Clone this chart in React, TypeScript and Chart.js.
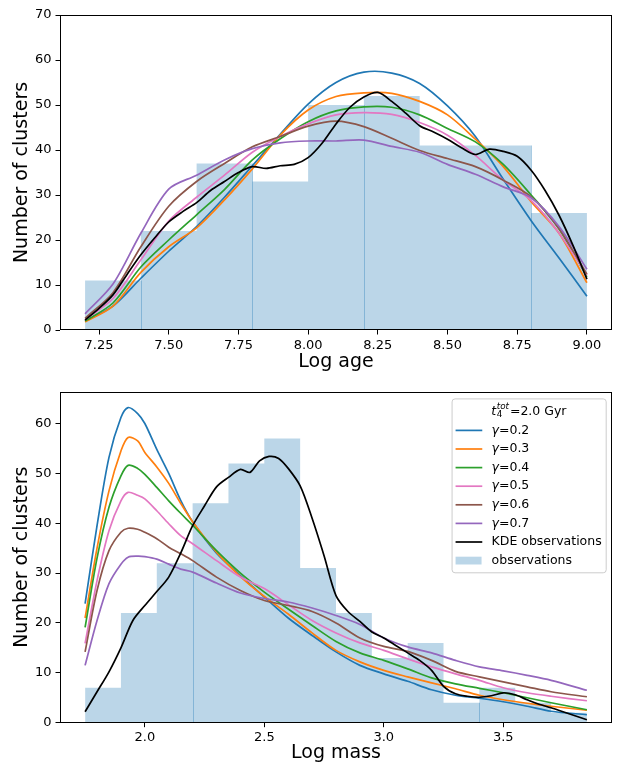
import React, { useEffect, useRef } from "react";
import { Chart, registerables } from "chart.js";

Chart.register(...registerables);

const FONT = '"DejaVu Sans", "Liberation Sans", sans-serif';

// ---------------- Top panel: Log age ----------------
const ageBinStart = 7.2;
const ageBinWidth = 0.2;
const ageCounts = [11, 22, 37, 33, 50, 52, 41, 41, 26];
const ageEdgeLines = [7.4, 7.8, 8.2, 8.8];
const ageTicks = [7.25, 7.5, 7.75, 8.0, 8.25, 8.5, 8.75, 9.0];
const ageCountTicks = [0, 10, 20, 30, 40, 50, 60, 70];

const ageX = [7.2, 7.3, 7.4, 7.5, 7.6, 7.7, 7.8, 7.9, 8.0, 8.1, 8.2, 8.3, 8.4, 8.5, 8.6, 8.7, 8.8, 8.9, 9.0];
const ageG02 = [2.0, 5.3, 11.5, 17.5, 23, 29.5, 36.5, 43.5, 50.2, 55, 57.3, 57.1, 54.8, 49.8, 43, 33.5, 24.3, 16, 7.5];
const ageG03 = [1.8, 5.3, 12.8, 18.5, 22.7, 28.9, 35.8, 43.3, 48.9, 51.9, 52.7, 52.6, 50.8, 47.8, 42.4, 36.3, 28.5, 21.5, 10.5];
const ageG04 = [2.0, 6.0, 14, 20, 25.6, 31.2, 37.8, 42.5, 46.3, 48.7, 49.6, 49.5, 47.8, 44.8, 41.8, 36.8, 30, 22.5, 11.8];
const ageG05 = [2.3, 7.0, 15.6, 24.2, 29.5, 34.4, 39.5, 43, 45.8, 47.8, 48.3, 47.9, 46.1, 43.3, 38.8, 33.3, 28.8, 21.5, 12.2];
const ageG06 = [2.6, 8.3, 18.5, 27.5, 33, 37, 40.7, 43, 45.3, 46.4, 45.2, 42.6, 39.9, 38.1, 36.3, 33.3, 29.6, 22.5, 12.4];
const ageG07 = [3.6, 10.2, 21.5, 31.3, 34.4, 37.8, 40.3, 41.6, 42, 42, 42.2, 40.8, 39.5, 36.8, 34.6, 31.8, 29.4, 23, 13.5];

const ageKdeX = [7.2, 7.25, 7.3, 7.35, 7.4, 7.45, 7.5, 7.55, 7.6, 7.65, 7.7, 7.75, 7.8, 7.85, 7.9, 7.95, 8.0, 8.05, 8.1, 8.15, 8.2, 8.25, 8.3, 8.35, 8.4, 8.45, 8.5, 8.55, 8.6, 8.65, 8.7, 8.75, 8.8, 8.85, 8.9, 8.95, 9.0];
const ageKde = [2.2, 4.8, 7.8, 12.3, 16.7, 20.5, 24.0, 26.3, 28.3, 31.0, 33.0, 35.0, 36.3, 35.9, 36.5, 36.8, 38.3, 41.5, 45.8, 49.5, 51.8, 52.8, 50.8, 48.2, 45.4, 44.0, 42.4, 40.5, 39.0, 40.2, 39.7, 38.6, 35.5, 31.0, 25.5, 18.8, 11.3];

// ---------------- Bottom panel: Log mass ----------------
const massBinStart = 1.75;
const massBinWidth = 0.15;
const massCounts = [7, 22, 32, 44, 52, 57, 31, 22, 13, 16, 4, 7, 4, 2];
const massEdgeLines = [2.2, 3.4];
const massTicks = [2.0, 2.5, 3.0, 3.5];
const massCountTicks = [0, 10, 20, 30, 40, 50, 60];

const massX = [1.75, 1.8, 1.85, 1.9, 1.93, 1.97, 2.0, 2.05, 2.1, 2.15, 2.2, 2.3, 2.4, 2.5, 2.6, 2.7, 2.8, 2.9, 3.0, 3.1, 3.2, 3.3, 3.4, 3.5, 3.6, 3.7, 3.85];
const massG02 = [23.9, 39.5, 53.2, 61.2, 63.2, 62.0, 60.0, 54.8, 50, 44.6, 40.3, 34, 29.5, 25.2, 21, 17.5, 14.2, 11.5, 9.8, 8.3, 6.6, 5.5, 4.9, 4.2, 3.3, 2.3, 1.6];
const massG03 = [21, 35, 46.5, 54.5, 57.2, 56.5, 54.2, 51.3, 48, 44, 40.3, 34.2, 29.3, 25.3, 21.8, 18, 14.5, 12.2, 10.5, 9.2, 8, 6.8, 5.5, 4.6, 3.9, 3.3, 2.5];
const massG04 = [19.1, 33, 43.2, 49.5, 51.6, 51, 49.8, 47.2, 44.5, 42, 39.6, 34.5, 30, 26.2, 22.8, 19.5, 16.3, 14, 12.5, 10.8, 9, 7.8, 6.9, 6, 5, 4, 2.6];
const massG05 = [15.9, 28.5, 38.5, 44.5, 46.2, 45.6, 44.9, 42.5, 39.9, 37.5, 35.9, 32.5, 29.2, 26.9, 23.7, 20.5, 18, 16, 14.5, 12.8, 11.2, 9.8, 8.5, 7, 6, 5.3, 4.4];
const massG06 = [14.2, 26.5, 34.5, 38.2, 39, 38.8, 38.2, 36.9, 35.2, 33.9, 32.5, 29.2, 26.5, 24.5, 23.5, 22.3, 20, 17, 15.3, 14.3, 12.5, 10.3, 9.2, 8.2, 7.2, 6.2, 5.2];
const massG07 = [11.5, 20.5, 27.9, 31.8, 33.2, 33.4, 33.3, 32.8, 31.8, 30.8, 30.2, 28, 26, 24.9, 24.2, 23, 21.5, 19.7, 17, 15.2, 14, 12.5, 11.2, 10.4, 9.5, 8.5, 6.5];

const massKdeX = [1.75, 1.8, 1.85, 1.9, 1.95, 2.0, 2.05, 2.1, 2.15, 2.2, 2.25, 2.3, 2.35, 2.4, 2.44, 2.48, 2.52, 2.56, 2.6, 2.65, 2.7, 2.75, 2.8, 2.85, 2.9, 2.95, 3.0, 3.05, 3.1, 3.15, 3.2, 3.25, 3.3, 3.35, 3.4, 3.45, 3.5, 3.55, 3.6, 3.65, 3.7, 3.75, 3.8, 3.85];
const massKde = [2.2, 6.2, 10.2, 15, 20.5, 23.5, 26.3, 29.2, 34, 39.5, 43.5, 47.3, 49.2, 50.8, 50.2, 52.5, 53.4, 53, 51, 47.5, 41, 33.5, 25.5, 22.3, 20.3, 18.2, 17, 15.5, 14, 12.5, 10.5, 7.3, 5.8, 5.3, 5.1, 5.4, 6.0, 5.6, 4.6, 3.7, 3.0, 2.2, 1.4, 0.6];

const gammaLabels = ["γ=0.2", "γ=0.3", "γ=0.4", "γ=0.5", "γ=0.6", "γ=0.7"];
const gammaColors = ["#1f77b4", "#ff7f0e", "#2ca02c", "#e377c2", "#8c564b", "#9467bd"];
const kdeLabel = "KDE observations";
const histLabel = "observations";
const histColor = "rgba(31,119,180,0.3)";

const pts = (xs: number[], ys: number[]) => xs.map((x, i) => ({ x, y: ys[i] }));
const histPts = (start: number, width: number, counts: number[]) => {
  const p = counts.map((c, i) => ({ x: start + i * width, y: c }));
  p.push({ x: start + counts.length * width, y: counts[counts.length - 1] });
  return p;
};

const framePlugin = {
  id: "frame",
  afterDatasetsDraw(chart: any) {
    const { ctx, chartArea: a } = chart;
    ctx.save();
    ctx.strokeStyle = "#000";
    ctx.lineWidth = 1;
    const l = Math.round(a.left) + 0.5, t = Math.round(a.top) + 0.5;
    const r = Math.round(a.right) - 0.5, b = Math.round(a.bottom) - 0.5;
    ctx.strokeRect(l, t, r - l, b - t);
    ctx.restore();
  },
};

const edgePlugin = (edges: number[], start: number, width: number, counts: number[]) => ({
  id: "edges",
  beforeDatasetsDraw(chart: any) {
    const { ctx } = chart;
    const xs = chart.scales.x, ys = chart.scales.y;
    ctx.save();
    ctx.strokeStyle = "rgba(31,119,180,0.35)";
    ctx.lineWidth = 1;
    edges.forEach((e) => {
      const i = Math.round((e - start) / width) - 1;
      const px = Math.round(xs.getPixelForValue(e)) + 0.5;
      ctx.beginPath();
      ctx.moveTo(px, ys.getPixelForValue(0));
      ctx.lineTo(px, ys.getPixelForValue(counts[i]));
      ctx.stroke();
    });
    ctx.restore();
  },
});

const legendPlugin = {
  id: "mplLegend",
  afterDraw(chart: any) {
    const { ctx, chartArea: a } = chart;
    const fs = 12.5;
    const small = fs * 0.7;
    const ds = chart.data.datasets;
    ctx.save();
    ctx.font = `${fs}px ${FONT}`;
    let maxW = 0;
    ds.forEach((d: any) => {
      maxW = Math.max(maxW, ctx.measureText(d.label).width);
    });
    const rowH = 18.6;
    const boxW = 40 + maxW + 4;
    const boxRight = a.right - 6.3;
    const boxLeft = boxRight - boxW;
    const boxTop = a.top + 6.6;
    const firstRow = boxTop + 32;
    const boxBottom = firstRow + (ds.length - 1) * rowH + 11.7;
    ctx.beginPath();
    ctx.roundRect(boxLeft + 0.5, boxTop + 0.5, boxW, boxBottom - boxTop, 3);
    ctx.fillStyle = "rgba(255,255,255,0.8)";
    ctx.fill();
    ctx.strokeStyle = "#cccccc";
    ctx.lineWidth = 1;
    ctx.stroke();

    // title: t_4^tot=2.0 Gyr
    ctx.fillStyle = "#000";
    ctx.textBaseline = "alphabetic";
    const italic = `italic ${fs}px ${FONT}`;
    const italicSmall = `italic ${small}px ${FONT}`;
    const normalSmall = `${small}px ${FONT}`;
    const normal = `${fs}px ${FONT}`;
    ctx.font = italic;
    const wT = ctx.measureText("t").width;
    ctx.font = italicSmall;
    const wSup = ctx.measureText("tot").width;
    ctx.font = normalSmall;
    const wSub = ctx.measureText("4").width;
    ctx.font = normal;
    const rest = "=2.0 Gyr";
    const wRest = ctx.measureText(rest).width;
    const wScript = Math.max(wSup, wSub) + 1;
    const totalW = wT + wScript + wRest;
    const cx = (boxLeft + boxRight) / 2;
    let tx = cx - totalW / 2;
    const base = boxTop + 11.7 + fs * 0.36;
    ctx.font = italic;
    ctx.fillText("t", tx, base);
    tx += wT + 0.5;
    ctx.font = italicSmall;
    ctx.fillText("tot", tx, base - fs * 0.42);
    ctx.font = normalSmall;
    ctx.fillText("4", tx, base + fs * 0.22);
    tx += wScript;
    ctx.font = normal;
    ctx.fillText(rest, tx, base);

    // entries
    ds.forEach((d: any, i: number) => {
      const y = firstRow + i * rowH;
      const hx = boxLeft + 4;
      if (d.isHist) {
        ctx.fillStyle = histColor;
        ctx.fillRect(hx, y - 3.9, 26, 7.8);
      } else {
        ctx.strokeStyle = d.borderColor;
        ctx.lineWidth = d.borderWidth;
        ctx.beginPath();
        ctx.moveTo(hx, y);
        ctx.lineTo(hx + 26.7, y);
        ctx.stroke();
      }
      ctx.fillStyle = "#000";
      ctx.textBaseline = "middle";
      const tX = boxLeft + 40;
      const label: string = d.label;
      if (label.startsWith("γ")) {
        ctx.font = italic;
        ctx.fillText("γ", tX, y);
        const wg = ctx.measureText("γ").width;
        ctx.font = normal;
        ctx.fillText(label.slice(1), tX + wg, y);
      } else {
        ctx.font = normal;
        ctx.fillText(label, tX, y);
      }
    });
    ctx.restore();
  },
};

function lineDatasets(xs: number[], series: number[][], kdeX: number[], kde: number[]) {
  const out: any[] = series.map((s, i) => ({
    label: gammaLabels[i],
    data: pts(xs, s),
    borderColor: gammaColors[i],
    backgroundColor: gammaColors[i],
    borderWidth: 1.7,
    pointRadius: 0,
    fill: false,
    tension: 0.3,
    order: 7 - i,
  }));
  out.push({
    label: kdeLabel,
    data: pts(kdeX, kde),
    borderColor: "#000000",
    backgroundColor: "#000000",
    borderWidth: 1.7,
    pointRadius: 0,
    fill: false,
    tension: 0.3,
    order: 0,
  });
  return out;
}

function makeConfig(opts: {
  xs: number[];
  series: number[][];
  kdeX: number[];
  kde: number[];
  binStart: number;
  binWidth: number;
  counts: number[];
  edges: number[];
  xTicks: number[];
  yTicks: number[];
  yMax: number;
  decimals: number;
  xTitle: string;
  padTop: number;
  xAxisH: number;
  xTitlePad: number;
  legend: boolean;
}) {
  const lo = opts.binStart;
  const hi = opts.binStart + opts.counts.length * opts.binWidth;
  const margin = (hi - lo) * 0.05;
  const datasets = lineDatasets(opts.xs, opts.series, opts.kdeX, opts.kde);
  datasets.push({
    label: histLabel,
    isHist: true,
    data: histPts(opts.binStart, opts.binWidth, opts.counts),
    stepped: true,
    borderWidth: 0,
    borderColor: "rgba(0,0,0,0)",
    backgroundColor: histColor,
    pointRadius: 0,
    fill: "origin",
    order: 20,
  });
  const plugins: any[] = [edgePlugin(opts.edges, opts.binStart, opts.binWidth, opts.counts), framePlugin];
  if (opts.legend) plugins.push(legendPlugin);
  return {
    type: "line" as const,
    data: { datasets },
    plugins,
    options: {
      animation: false as const,
      responsive: false,
      devicePixelRatio: 1,
      layout: { padding: { top: opts.padTop, right: 6, left: 0, bottom: 0 } },
      plugins: { legend: { display: false }, tooltip: { enabled: false } },
      scales: {
        x: {
          type: "linear" as const,
          min: lo - margin,
          max: hi + margin,
          afterBuildTicks: (s: any) => {
            s.ticks = opts.xTicks.map((v) => ({ value: v }));
          },
          afterFit: (s: any) => {
            s.height = opts.xAxisH;
          },
          ticks: {
            callback: (v: any) => Number(v).toFixed(opts.decimals),
            color: "#000",
            font: { family: FONT, size: 13 },
            padding: 3,
            maxRotation: 0,
            autoSkip: false,
          },
          grid: { drawOnChartArea: false, drawTicks: true, tickLength: 4.5, color: "#000", lineWidth: 1 },
          border: { display: false },
          title: {
            display: true,
            text: opts.xTitle,
            color: "#000",
            font: { family: FONT, size: 19 },
            padding: { top: 0, bottom: opts.xTitlePad },
          },
        },
        y: {
          type: "linear" as const,
          min: 0,
          max: opts.yMax,
          afterBuildTicks: (s: any) => {
            s.ticks = opts.yTicks.map((v) => ({ value: v }));
          },
          afterFit: (s: any) => {
            s.width = 60;
          },
          ticks: {
            color: "#000",
            font: { family: FONT, size: 13 },
            padding: 4,
            callback: (v: any) => String(v),
          },
          grid: { drawOnChartArea: false, drawTicks: true, tickLength: 4.5, color: "#000", lineWidth: 1 },
          border: { display: false },
          title: {
            display: true,
            text: "Number of clusters",
            color: "#000",
            font: { family: FONT, size: 19 },
            padding: { top: 10.6, bottom: 0 },
          },
        },
      },
    },
  };
}

export default function App() {
  const topRef = useRef<HTMLCanvasElement>(null);
  const botRef = useRef<HTMLCanvasElement>(null);

  useEffect(() => {
    const top = new Chart(
      topRef.current as HTMLCanvasElement,
      makeConfig({
        xs: ageX,
        series: [ageG02, ageG03, ageG04, ageG05, ageG06, ageG07],
        kdeX: ageKdeX,
        kde: ageKde,
        binStart: ageBinStart,
        binWidth: ageBinWidth,
        counts: ageCounts,
        edges: ageEdgeLines,
        xTicks: ageTicks,
        yTicks: ageCountTicks,
        yMax: 70,
        decimals: 2,
        xTitle: "Log age",
        padTop: 15,
        xAxisH: 50,
        xTitlePad: 6.6,
        legend: false,
      }) as any
    );
    const maxCurve = Math.max(...massG02, ...massKde, ...massCounts);
    const bottom = new Chart(
      botRef.current as HTMLCanvasElement,
      makeConfig({
        xs: massX,
        series: [massG02, massG03, massG04, massG05, massG06, massG07],
        kdeX: massKdeX,
        kde: massKde,
        binStart: massBinStart,
        binWidth: massBinWidth,
        counts: massCounts,
        edges: massEdgeLines,
        xTicks: massTicks,
        yTicks: massCountTicks,
        yMax: maxCurve * 1.05,
        decimals: 1,
        xTitle: "Log mass",
        padTop: 10.7,
        xAxisH: 41.3,
        xTitlePad: 0,
        legend: true,
      }) as any
    );
    return () => {
      top.destroy();
      bottom.destroy();
    };
  }, []);

  return (
    <div style={{ position: "absolute", left: 0, top: 0, width: 618, height: 764, background: "#fff" }}>
      <canvas ref={topRef} width={618} height={380} style={{ position: "absolute", left: 0, top: 0 }} />
      <canvas ref={botRef} width={618} height={384} style={{ position: "absolute", left: 0, top: 380 }} />
    </div>
  );
}
